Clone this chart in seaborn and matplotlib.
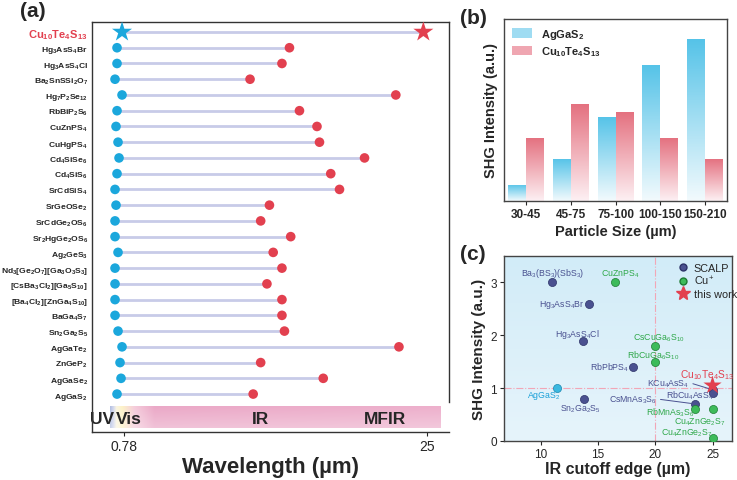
import re
import numpy as np
import pandas as pd
import matplotlib.pyplot as plt
import seaborn as sns
from matplotlib.colors import LinearSegmentedColormap, to_rgba
from matplotlib.patches import Rectangle
from matplotlib.lines import Line2D

sns.set_style('white')
plt.rcParams['font.family'] = ['Liberation Sans', 'DejaVu Sans']
plt.rcParams['mathtext.fontset'] = 'custom'
plt.rcParams['mathtext.rm'] = 'Liberation Sans'
plt.rcParams['mathtext.it'] = 'Liberation Sans'
plt.rcParams['mathtext.bf'] = 'Liberation Sans:bold'

# ---- (a) absorption edge / IR cutoff, um ----
compounds = ['Cu10Te4S13', 'Hg3AsS4Br', 'Hg3AsS4Cl', 'Ba2SnSSi2O7', 'Hg7P2Se12', 'RbBiP2S6',
             'CuZnPS4', 'CuHgPS4', 'Cd4SiSe6', 'Cd4SiS6', 'SrCdSiS4', 'SrGeOSe2', 'SrCdGe2OS6',
             'Sr2HgGe2OS6', 'Ag2GeS3', 'Nd3[Ge2O7][Ga3O3S3]', '[CsBa3Cl2][Ga5S10]',
             '[Ba4Cl2][ZnGa4S10]', 'BaGa4S7', 'Sn2Ga2S5', 'AgGaTe2', 'ZnGeP2', 'AgGaSe2', 'AgGaS2']
uv_edge = [0.62, 0.22, 0.22, 0.06, 0.62, 0.22, 0.14, 0.30, 0.38, 0.22, 0.06, 0.14, 0.06,
           0.06, 0.30, 0.06, 0.06, 0.06, 0.06, 0.30, 0.62, 0.46, 0.54, 0.22]
ir_edge = [24.7, 14.0, 13.4, 10.85, 22.5, 14.8, 16.2, 16.4, 20.0, 17.3, 18.0, 12.4, 11.7,
           14.1, 12.7, 13.4, 12.2, 13.4, 13.4, 13.6, 22.75, 11.7, 16.7, 11.1]
wl_ticks = [0.78, 25]
regions = ['UV', 'Vis', 'IR', 'MFIR']
region_pos = [-0.98, 1.14, 11.65, 21.6]

# ---- (b) particle size SHG ----
sizes = ['30-45', '45-75', '75-100', '100-150', '150-210']
shg_aggas2 = [0.10, 0.26, 0.52, 0.84, 1.00]
shg_cu = [0.39, 0.60, 0.55, 0.39, 0.26]

# ---- (c) SHG vs IR cutoff ----
scalp_names = ['Ba3(BS3)(SbS3)', 'Hg3AsS4Br', 'Hg3AsS4Cl', 'RbPbPS4', 'Sn2Ga2S5',
               'KCu4AsS4', 'RbCu4AsS4', 'CsMnAs3S6']
scalp_ir = [11.0, 14.2, 13.7, 18.1, 13.8, 25.0, 25.0, 23.5]
scalp_shg = [3.0, 2.6, 1.9, 1.4, 0.8, 0.97, 0.9, 0.7]
cu_names = ['CuZnPS4', 'CsCuGa6S10', 'RbCuGa6S10', 'RbMnAs3S6', 'Cu4ZnGe2S7', 'Cu4ZnGe2S7']
cu_ir = [16.5, 20.0, 20.0, 23.5, 25.0, 25.0]
cu_shg = [3.0, 1.8, 1.5, 0.6, 0.6, 0.05]
ref_ir, ref_shg = [11.4], [1.0]
work_ir, work_shg = [25.0], [1.05]

blue = '#1ba7dc'
red = '#e2404f'
slate = '#4a5190'
green = '#2fa84a'


def chem(s, bold=False):
    s = s.replace('+', r'$^{+}$')
    if bold:
        return re.sub(r'(\d+)', lambda m: r'$_{\mathbf{%s}}$' % m.group(1), s)
    return re.sub(r'(\d+)', lambda m: r'$_{%s}$' % m.group(1), s)


fig = plt.figure(figsize=(7.37, 4.81), dpi=100)
W, H = 737, 481

# ================= (a) =================
axa = fig.add_axes([92 / W, 1 - 433 / H, 357 / W, 410 / H])
df_a = pd.DataFrame({'compound': compounds, 'uv': uv_edge, 'ir': ir_edge})
df_a['row'] = np.arange(len(df_a))

axa.hlines(df_a['row'], df_a['uv'], df_a['ir'], color='#c8cbe8', lw=2, zorder=1)
sns.scatterplot(data=df_a.iloc[1:], x='uv', y='row', color=blue, s=48, edgecolor='none', ax=axa, zorder=3)
sns.scatterplot(data=df_a.iloc[1:], x='ir', y='row', color=red, s=48, edgecolor='none', ax=axa, zorder=3)
sns.scatterplot(data=df_a.iloc[:1], x='uv', y='row', color=blue, marker='*', s=230, edgecolor='none', ax=axa, zorder=3)
sns.scatterplot(data=df_a.iloc[:1], x='ir', y='row', color=red, marker='*', s=230, edgecolor='none', ax=axa, zorder=3)

# spectrum band
bx0, bx1 = -0.34, 26.1
cols = np.linspace(bx0, bx1, 500)
stops = [-0.34, -0.1, 0.15, 0.62, 1.6, 3.2, 26.1]
stop_cols = np.array([(0.70, 0.75, 0.88), (0.82, 0.84, 0.93), (0.98, 0.96, 0.88),
                      (0.99, 0.95, 0.78), (0.96, 0.80, 0.86), (0.92, 0.66, 0.78), (0.93, 0.69, 0.80)])
rgb = np.stack([np.interp(cols, stops, stop_cols[:, k]) for k in range(3)], axis=-1)
fade = np.linspace(0, 0.3, 30)[:, None, None]
band = rgb[None, :, :] * (1 - fade) + fade
axa.imshow(band, extent=(bx0, bx1, 25.16, 23.82), origin='upper', aspect='auto', zorder=0)
for name, xp in zip(regions, region_pos):
    axa.text(xp, 24.55, name, ha='center', va='center', fontsize=12.5, fontweight='bold', zorder=2)

axa.set_xlim(-1.78, 26.75)
axa.set_ylim(25.41, -0.635)
axa.set_yticks(df_a['row'], [chem(c, bold=True) for c in compounds])
for i, lab in enumerate(axa.get_yticklabels()):
    lab.set_fontweight('bold')
    lab.set_fontsize(6.1)
    if i == 0:
        lab.set_color(red)
        lab.set_fontsize(8)
axa.tick_params(axis='y', length=0, pad=3)
axa.set_xticks(wl_ticks, ['0.78', '25'])
axa.tick_params(axis='x', direction='out', length=3, labelsize=10, pad=2, bottom=True)
axa.set_xlabel('Wavelength (µm)', fontsize=16, fontweight='bold', labelpad=2)
axa.set_ylabel('')
for sp in axa.spines.values():
    sp.set_color('#333333')
    sp.set_linewidth(1)
axa.spines['right'].set_bounds(23.5, -0.635)

# ================= (b) =================
axb = fig.add_axes([504 / W, 1 - 202 / H, 223 / W, 182 / H])
df_b = pd.DataFrame({'size': sizes * 2, 'shg': shg_aggas2 + shg_cu,
                     'sample': ['AgGaS2'] * len(sizes) + ['Cu10Te4S13'] * len(sizes)})
btop, rtop = '#55c3e8', '#e4707f'
sns.barplot(data=df_b, x='size', y='shg', hue='sample', palette=[btop, rtop], saturation=1,
            width=0.8, legend=False, ax=axb)
cm_b = LinearSegmentedColormap.from_list('gb', ['#f2fafd', btop])
cm_r = LinearSegmentedColormap.from_list('gr', ['#fdf0f3', rtop])
grad = np.linspace(0, 1, 100).reshape(-1, 1)
for p in list(axb.patches):
    fc = p.get_facecolor()
    cmap = cm_b if np.allclose(fc, to_rgba(btop), atol=0.02) else cm_r
    x0, y0, w, h = p.get_x(), p.get_y(), p.get_width(), p.get_height()
    im = axb.imshow(grad, extent=(x0, x0 + w, y0, y0 + h), origin='lower', aspect='auto',
                    cmap=cmap, zorder=p.get_zorder())
    im.set_clip_path(p)
    p.set_facecolor('none')
    p.set_edgecolor('none')
axb.set_xlim(-0.5, 4.5)
axb.set_ylim(0, 1.12)
axb.set_yticks([])
axb.tick_params(axis='x', direction='out', length=3, labelsize=8.5, pad=2, bottom=True)
for lab in axb.get_xticklabels():
    lab.set_fontweight('bold')
axb.set_xlabel('Particle Size (µm)', fontsize=10.5, fontweight='bold', labelpad=3)
axb.set_ylabel('SHG Intensity (a.u.)', fontsize=10.5, fontweight='bold', labelpad=4)
for sp in axb.spines.values():
    sp.set_color('#444444')
    sp.set_linewidth(1)
hb = [Rectangle((0, 0), 1, 1, facecolor='#9fdcf2', edgecolor='none'),
      Rectangle((0, 0), 1, 1, facecolor='#efa6b1', edgecolor='none')]
axb.legend(hb, [chem('AgGaS2', True), chem('Cu10Te4S13', True)], loc='upper left', frameon=False,
           prop={'weight': 'bold', 'size': 8}, handlelength=1.8, handleheight=0.9,
           labelspacing=0.3, borderaxespad=0.3)

# ================= (c) =================
axc = fig.add_axes([504 / W, 1 - 442 / H, 228 / W, 185 / H])
bg = LinearSegmentedColormap.from_list('bg', ['#e6f4fb', '#d2ecf8'])
axc.imshow(np.linspace(0, 1, 100).reshape(-1, 1), extent=(0, 1, 0, 1), origin='lower', aspect='auto',
           cmap=bg, transform=axc.transAxes, zorder=0)
axc.axvline(20, color='#f2a6b6', lw=0.8, ls='-.', zorder=1)
axc.axhline(1, color='#f2a6b6', lw=0.8, ls='-.', zorder=1)

sns.scatterplot(x=scalp_ir, y=scalp_shg, color=slate, s=34, edgecolor='#2c3268', linewidth=0.5, ax=axc, zorder=3)
sns.scatterplot(x=cu_ir, y=cu_shg, color='#3dbb5a', s=34, edgecolor='#1d7a33', linewidth=0.5, ax=axc, zorder=3)
sns.scatterplot(x=ref_ir, y=ref_shg, color='#3ab8e0', s=34, edgecolor='#1a88b0', linewidth=0.5, ax=axc, zorder=3)
sns.scatterplot(x=work_ir, y=work_shg, color=red, marker='*', s=190, edgecolor='none', ax=axc, zorder=4)

scalp_off = [(1, 10), (-27, 0), (-6, 7), (-24, 0), (-4, -10), (-44, 7), (-23, -1), (-62, 5)]
cu_off = [(5, 9), (4, 9), (-2, 7), (-25, -2), (-13, -12), (-26, 6)]
lead = {'KCu4AsS4', 'CsMnAs3S6'}
lab_fs = 6.3
for n, x, y, o in zip(scalp_names, scalp_ir, scalp_shg, scalp_off):
    kw = {}
    if n in lead:
        kw['arrowprops'] = dict(arrowstyle='-', color=slate, lw=0.7, relpos=(1, 0.5), shrinkA=0, shrinkB=3)
    axc.annotate(chem(n), (x, y), xytext=(o[0] * 0.72, o[1] * 0.72), textcoords='offset points',
                 ha='center', va='center', fontsize=lab_fs, color=slate, zorder=5, **kw)
for n, x, y, o in zip(cu_names, cu_ir, cu_shg, cu_off):
    axc.annotate(chem(n), (x, y), xytext=(o[0] * 0.72, o[1] * 0.72), textcoords='offset points',
                 ha='center', va='center', fontsize=lab_fs, color=green, zorder=5)
axc.annotate(chem('AgGaS2'), (ref_ir[0], ref_shg[0]), xytext=(-13 * 0.72, -6 * 0.72),
             textcoords='offset points', ha='center', va='center', fontsize=lab_fs, color='#1ba0d8', zorder=5)
axc.annotate(chem('Cu10Te4S13'), (work_ir[0], work_shg[0]), xytext=(-6 * 0.72, 11 * 0.72),
             textcoords='offset points', ha='center', va='center', fontsize=7.3, color=red, zorder=5)

axc.set_xlim(6.8, 26.7)
axc.set_ylim(0, 3.5)
axc.set_xticks([10, 15, 20, 25])
axc.set_yticks([0, 1, 2, 3])
axc.tick_params(direction='out', length=3, labelsize=8.5, pad=2, bottom=True, left=True)
axc.set_xlabel('IR cutoff edge (µm)', fontsize=11.5, fontweight='bold', labelpad=1)
axc.set_ylabel('SHG Intensity (a.u.)', fontsize=11, fontweight='bold', labelpad=3)
for sp in axc.spines.values():
    sp.set_color('#444444')
    sp.set_linewidth(1)
hc = [Line2D([], [], marker='o', ls='none', color=slate, mec='#2c3268', ms=5),
      Line2D([], [], marker='o', ls='none', color='#3dbb5a', mec='#1d7a33', ms=5),
      Line2D([], [], marker='*', ls='none', color=red, ms=10)]
axc.legend(hc, ['SCALP', chem('Cu+'), 'this work'], loc='upper right', bbox_to_anchor=(1.05, 1.0),
           frameon=False, fontsize=7.8, handletextpad=0.4, labelspacing=0.15, borderaxespad=0.2,
           handlelength=1.2)

# panel labels
fig.text(20 / W, 1 - 2 / H, '(a)', fontsize=15, fontweight='bold', va='top')
fig.text(460 / W, 1 - 9 / H, '(b)', fontsize=15, fontweight='bold', va='top')
fig.text(460 / W, 1 - 245 / H, '(c)', fontsize=15, fontweight='bold', va='top')

fig.savefig('out.png', dpi=100)
